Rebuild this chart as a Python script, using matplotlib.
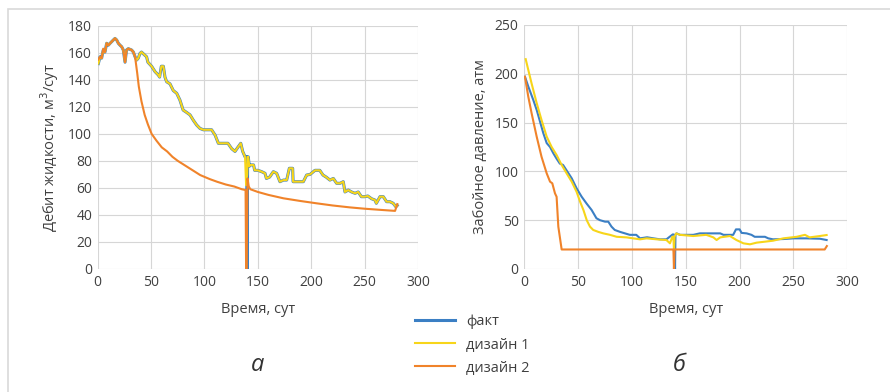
import matplotlib
matplotlib.use("Agg")
import matplotlib.pyplot as plt
from matplotlib.patches import Rectangle

plt.rcParams['font.family'] = ['Open Sans', 'DejaVu Sans']

# ---------------- data ----------------
x_ticks = [0, 50, 100, 150, 200, 250, 300]
left_y_ticks = [0, 20, 40, 60, 80, 100, 120, 140, 160, 180]
right_y_ticks = [0, 50, 100, 150, 200, 250]
series_names = ["факт", "дизайн 1", "дизайн 2"]

left_fact = [(0.6, 152), (2.2, 157), (3.7, 156), (5.2, 162), (6.8, 160.5), (8.4, 167), (10, 165.6),
             (11.6, 167), (14.6, 169.4), (16.2, 170.6), (17.8, 169.4), (19.3, 167), (20.9, 165.6),
             (22.5, 164.4), (24, 162), (25.6, 153), (27, 162), (28.7, 163), (31.8, 162), (33.4, 160.5),
             (35, 157), (36.5, 154.6), (38, 156), (39.6, 159.5), (41, 160.5), (44, 158.3), (45.8, 157),
             (47, 153), (50.5, 150), (53.7, 146), (56.8, 143.5), (58, 142), (59.6, 150), (61.5, 150),
             (63, 142), (64.6, 138.5), (67.7, 137), (70.8, 132), (74, 130), (77, 125), (80, 117.6),
             (83, 116), (86.5, 114), (89.6, 110), (92.7, 106.5), (95.8, 104), (99, 103), (102, 103),
             (106.7, 103), (110, 99), (113, 93), (116, 93), (119, 93), (122, 93), (125.5, 89),
             (128.6, 87), (131.7, 90.5), (134, 93), (135.8, 87), (138, 83), (139.6, 83), (140, 0),
             (140.4, 83), (141, 83), (142, 76), (143, 77), (146, 77), (147, 73), (150, 73), (153.6, 72),
             (156.7, 70.8), (158, 67), (161, 68), (164.5, 72), (167.6, 70.8), (170.7, 64.6), (174, 65.8),
             (177, 65.8), (179.5, 74.5), (182.6, 74.5), (183, 64.6), (186, 64.6), (192.6, 64.6),
             (195.7, 69.5), (199, 70), (203.5, 73), (208, 73), (211, 69.5), (214, 68), (217.5, 65.8),
             (220.7, 67), (223.8, 63.4), (227, 63.4), (230, 64.6), (231.6, 57), (234.7, 58.4),
             (237.8, 57), (241, 56), (244, 57), (247, 53.5), (250, 53.5), (253, 54), (256.5, 52),
             (259.7, 51), (261, 48.6), (264.4, 53.5), (267.5, 53.5), (270.6, 49.8), (273.7, 49.8),
             (276.8, 48.6), (279.3, 46), (280.5, 47)]

left_design1 = [(0.6, 152), (2.2, 157), (3.7, 156), (5.2, 162), (6.8, 160.5), (8.4, 167), (10, 165.6),
                (11.6, 167), (14.6, 169.4), (16.2, 170.6), (17.8, 169.4), (19.3, 167), (20.9, 165.6),
                (22.5, 164.4), (24, 162), (25.6, 153), (27, 162), (28.7, 163), (31.8, 162), (33.4, 160.5),
                (35, 157), (36.5, 154.6), (38, 156), (39.6, 159.5), (41, 160.5), (44, 158.3), (45.8, 157),
                (47, 153), (50.5, 150), (53.7, 146), (56.8, 143.5), (58, 142), (59.6, 150), (61.5, 150),
                (63, 142), (64.6, 138.5), (67.7, 137), (70.8, 132), (74, 130), (77, 125), (80, 117.6),
                (83, 116), (86.5, 114), (89.6, 110), (92.7, 106.5), (95.8, 104), (99, 103), (102, 103),
                (106.7, 103), (110, 99), (113, 93), (116, 93), (119, 93), (122, 93), (125.5, 89),
                (128.6, 87), (131.7, 90.5), (134, 93), (135.8, 87), (138, 83), (139, 62), (140, 70),
                (140.4, 83), (141, 83), (142, 76), (143, 77), (146, 77), (147, 73), (150, 73), (153.6, 72),
                (156.7, 70.8), (158, 67), (161, 68), (164.5, 72), (167.6, 70.8), (170.7, 64.6), (174, 65.8),
                (177, 65.8), (179.5, 74.5), (182.6, 74.5), (183, 64.6), (186, 64.6), (192.6, 64.6),
                (195.7, 69.5), (199, 70), (203.5, 73), (208, 73), (211, 69.5), (214, 68), (217.5, 65.8),
                (220.7, 67), (223.8, 63.4), (227, 63.4), (230, 64.6), (231.6, 57), (234.7, 58.4),
                (237.8, 57), (241, 56), (244, 57), (247, 53.5), (250, 53.5), (253, 54), (256.5, 52),
                (259.7, 51), (261, 48.6), (264.4, 53.5), (267.5, 53.5), (270.6, 49.8), (273.7, 49.8),
                (276.8, 48.6), (279.3, 46), (280.5, 47)]

left_design2 = [(0.6, 155), (2.2, 157), (3.7, 156), (5.2, 163), (6.8, 160.5), (8.4, 167), (10, 165.6),
                (11.6, 167), (14.6, 169.4), (16.2, 170.6), (17.8, 169.4), (19.3, 167), (20.9, 165.6),
                (22.5, 164.4), (24, 162), (25.6, 153), (27, 162), (28.7, 163), (31.8, 162), (33.4, 160.5),
                (35, 157), (37, 145), (38.5, 135), (41, 124), (44, 114), (47, 107), (50.5, 100), (55, 95),
                (60, 90), (65, 87), (70, 83), (75, 80), (83, 76), (90, 72.5), (96, 69.5), (105, 66.5),
                (112, 64.5), (120, 62.5), (128, 61), (135, 59), (138.5, 58.4), (139, 0), (139.5, 0),
                (140.3, 67), (141.5, 61), (143, 59), (150, 57), (160, 54.8), (174, 52.3), (190, 50.3),
                (205, 48.6), (220, 47), (236, 45.6), (250, 44.6), (267.5, 43.6), (278.5, 43), (280.6, 48)]

right_fact = [(0.6, 197), (3.7, 187), (8.4, 173), (11.5, 163), (14.6, 151), (17.7, 139), (20.8, 129),
              (23.9, 125), (27, 118.5), (30, 113), (33, 108), (36, 106.6), (39.3, 101), (44, 93),
              (48.6, 82.6), (53.3, 74), (57.9, 67), (62.5, 60.5), (67, 52), (70.3, 50), (75, 48.5),
              (78, 48.5), (81, 43.4), (84, 40), (89, 38), (93.5, 36.5), (98, 35), (104, 35), (107.5, 31.4),
              (114, 32.5), (120, 31.4), (126, 30.4), (132, 30.4), (135, 33), (138, 35.5), (139.6, 35),
              (140, 0), (140.4, 35), (141.5, 36.5), (144.6, 35), (150.7, 35), (157, 35), (163, 36.5),
              (169.4, 36.5), (175.6, 36.5), (182, 36.5), (185, 35), (194, 35), (196.6, 40.6), (200, 40.6),
              (201.8, 37), (206.5, 36.5), (211, 35), (214, 33), (223.5, 33), (226.6, 31.4), (231, 30.4),
              (240.6, 30.7), (250, 31.4), (262, 31.4), (274.6, 31), (280.8, 29.7)]

right_design1 = [(1.3, 215), (3.7, 204), (6.8, 190), (11.5, 170), (16, 152.7), (20.8, 135.6), (25.4, 125),
                 (30, 116.8), (34.7, 106.6), (39.3, 98), (44, 89.5), (48.6, 79), (51.8, 69), (54.9, 60.5),
                 (58, 50), (61, 43.4), (64, 40), (68.8, 38), (73.4, 36.5), (79.6, 35), (85.8, 33), (95, 32.4),
                 (101, 31.4), (107.5, 30.4), (113.6, 31.4), (123, 30.4), (132, 29.7), (135.3, 26.3),
                 (137.5, 33), (138.5, 33), (139, 18), (139.5, 33), (141, 36.5), (144.6, 35), (157, 33.8),
                 (169, 35), (175.6, 32.4), (178.6, 29.7), (182, 32.4), (191, 33.8), (197, 29.7),
                 (203.5, 26.3), (209.6, 25.3), (215.8, 27), (223.5, 28), (231, 29), (240.6, 31.4),
                 (253, 33), (260.7, 35), (265, 32.4), (274.6, 33.8), (280.8, 34.8)]

right_design2 = [(0.6, 197), (3.7, 176.6), (6.8, 159.5), (11.5, 135.6), (16, 115), (20.8, 98), (23.9, 89.5),
                 (26, 87.8), (28.5, 77.5), (30, 74), (31.6, 43.4), (34.7, 20), (138.5, 20), (139, 0),
                 (139.5, 20), (279, 20), (281, 23.5)]

colors = ["#3b7fc4", "#f7d51a", "#f0832a"]

# ---------------- figure ----------------
W, H = 890, 392
fig = plt.figure(figsize=(W / 100, H / 100), dpi=100)

# outer light frame
fig.add_artist(Rectangle((8 / W, -0.1), 1.2, 1 - 9 / H + 0.1, transform=fig.transFigure,
                         fill=False, edgecolor="#d9d9d9", linewidth=1.2))

axL = fig.add_axes([97.7 / W, 1 - 269 / H, (418 - 97.7) / W, (269 - 25.7) / H])
axR = fig.add_axes([524.3 / W, 1 - 269 / H, (847.3 - 524.3) / W, (269 - 25) / H])

def draw(ax, data, widths):
    lines = []
    for d, c, name, lw in zip(data, colors, series_names, widths):
        t = [p[0] for p in d]
        v = [p[1] for p in d]
        ln, = ax.plot(t, v, color=c, lw=lw, label=name, solid_joinstyle="round")
        lines.append(ln)
    return lines

handles = draw(axL, [left_fact, left_design1, left_design2], [2.2, 1.5, 1.5])
draw(axR, [right_fact, right_design1, right_design2], [1.5, 1.5, 1.5])

for ax, yt in [(axL, left_y_ticks), (axR, right_y_ticks)]:
    ax.set_xlim(0, 300)
    ax.set_ylim(0, yt[-1])
    ax.set_xticks(x_ticks)
    ax.set_yticks(yt)
    ax.grid(True, color="#d6d6d6", lw=0.8)
    ax.set_axisbelow(True)
    for s in ax.spines.values():
        s.set_visible(False)
    ax.tick_params(length=0, labelsize=10, colors="#404040", pad=4)
    ax.set_xlabel("Время, сут", fontsize=10.5, color="#404040", labelpad=9)

axL.set_ylabel("Дебит жидкости, м$^3$/сут", fontsize=10.5, color="#404040", labelpad=5)
axR.set_ylabel("Забойное давление, атм", fontsize=10.5, color="#404040", labelpad=5)

fig.text(258 / W, 1 - 365 / H, "а", fontsize=17, style="italic", ha="center", va="center", color="#333333")
fig.text(679 / W, 1 - 365 / H, "б", fontsize=17, style="italic", ha="center", va="center", color="#333333")

fig.legend(handles, series_names, loc="center left", bbox_to_anchor=(402 / W, 1 - 345 / H),
           frameon=False, fontsize=10.5, handlelength=2.7, handletextpad=0.8, labelspacing=0.55,
           labelcolor="#404040")

fig.savefig("out.png", dpi=100)
